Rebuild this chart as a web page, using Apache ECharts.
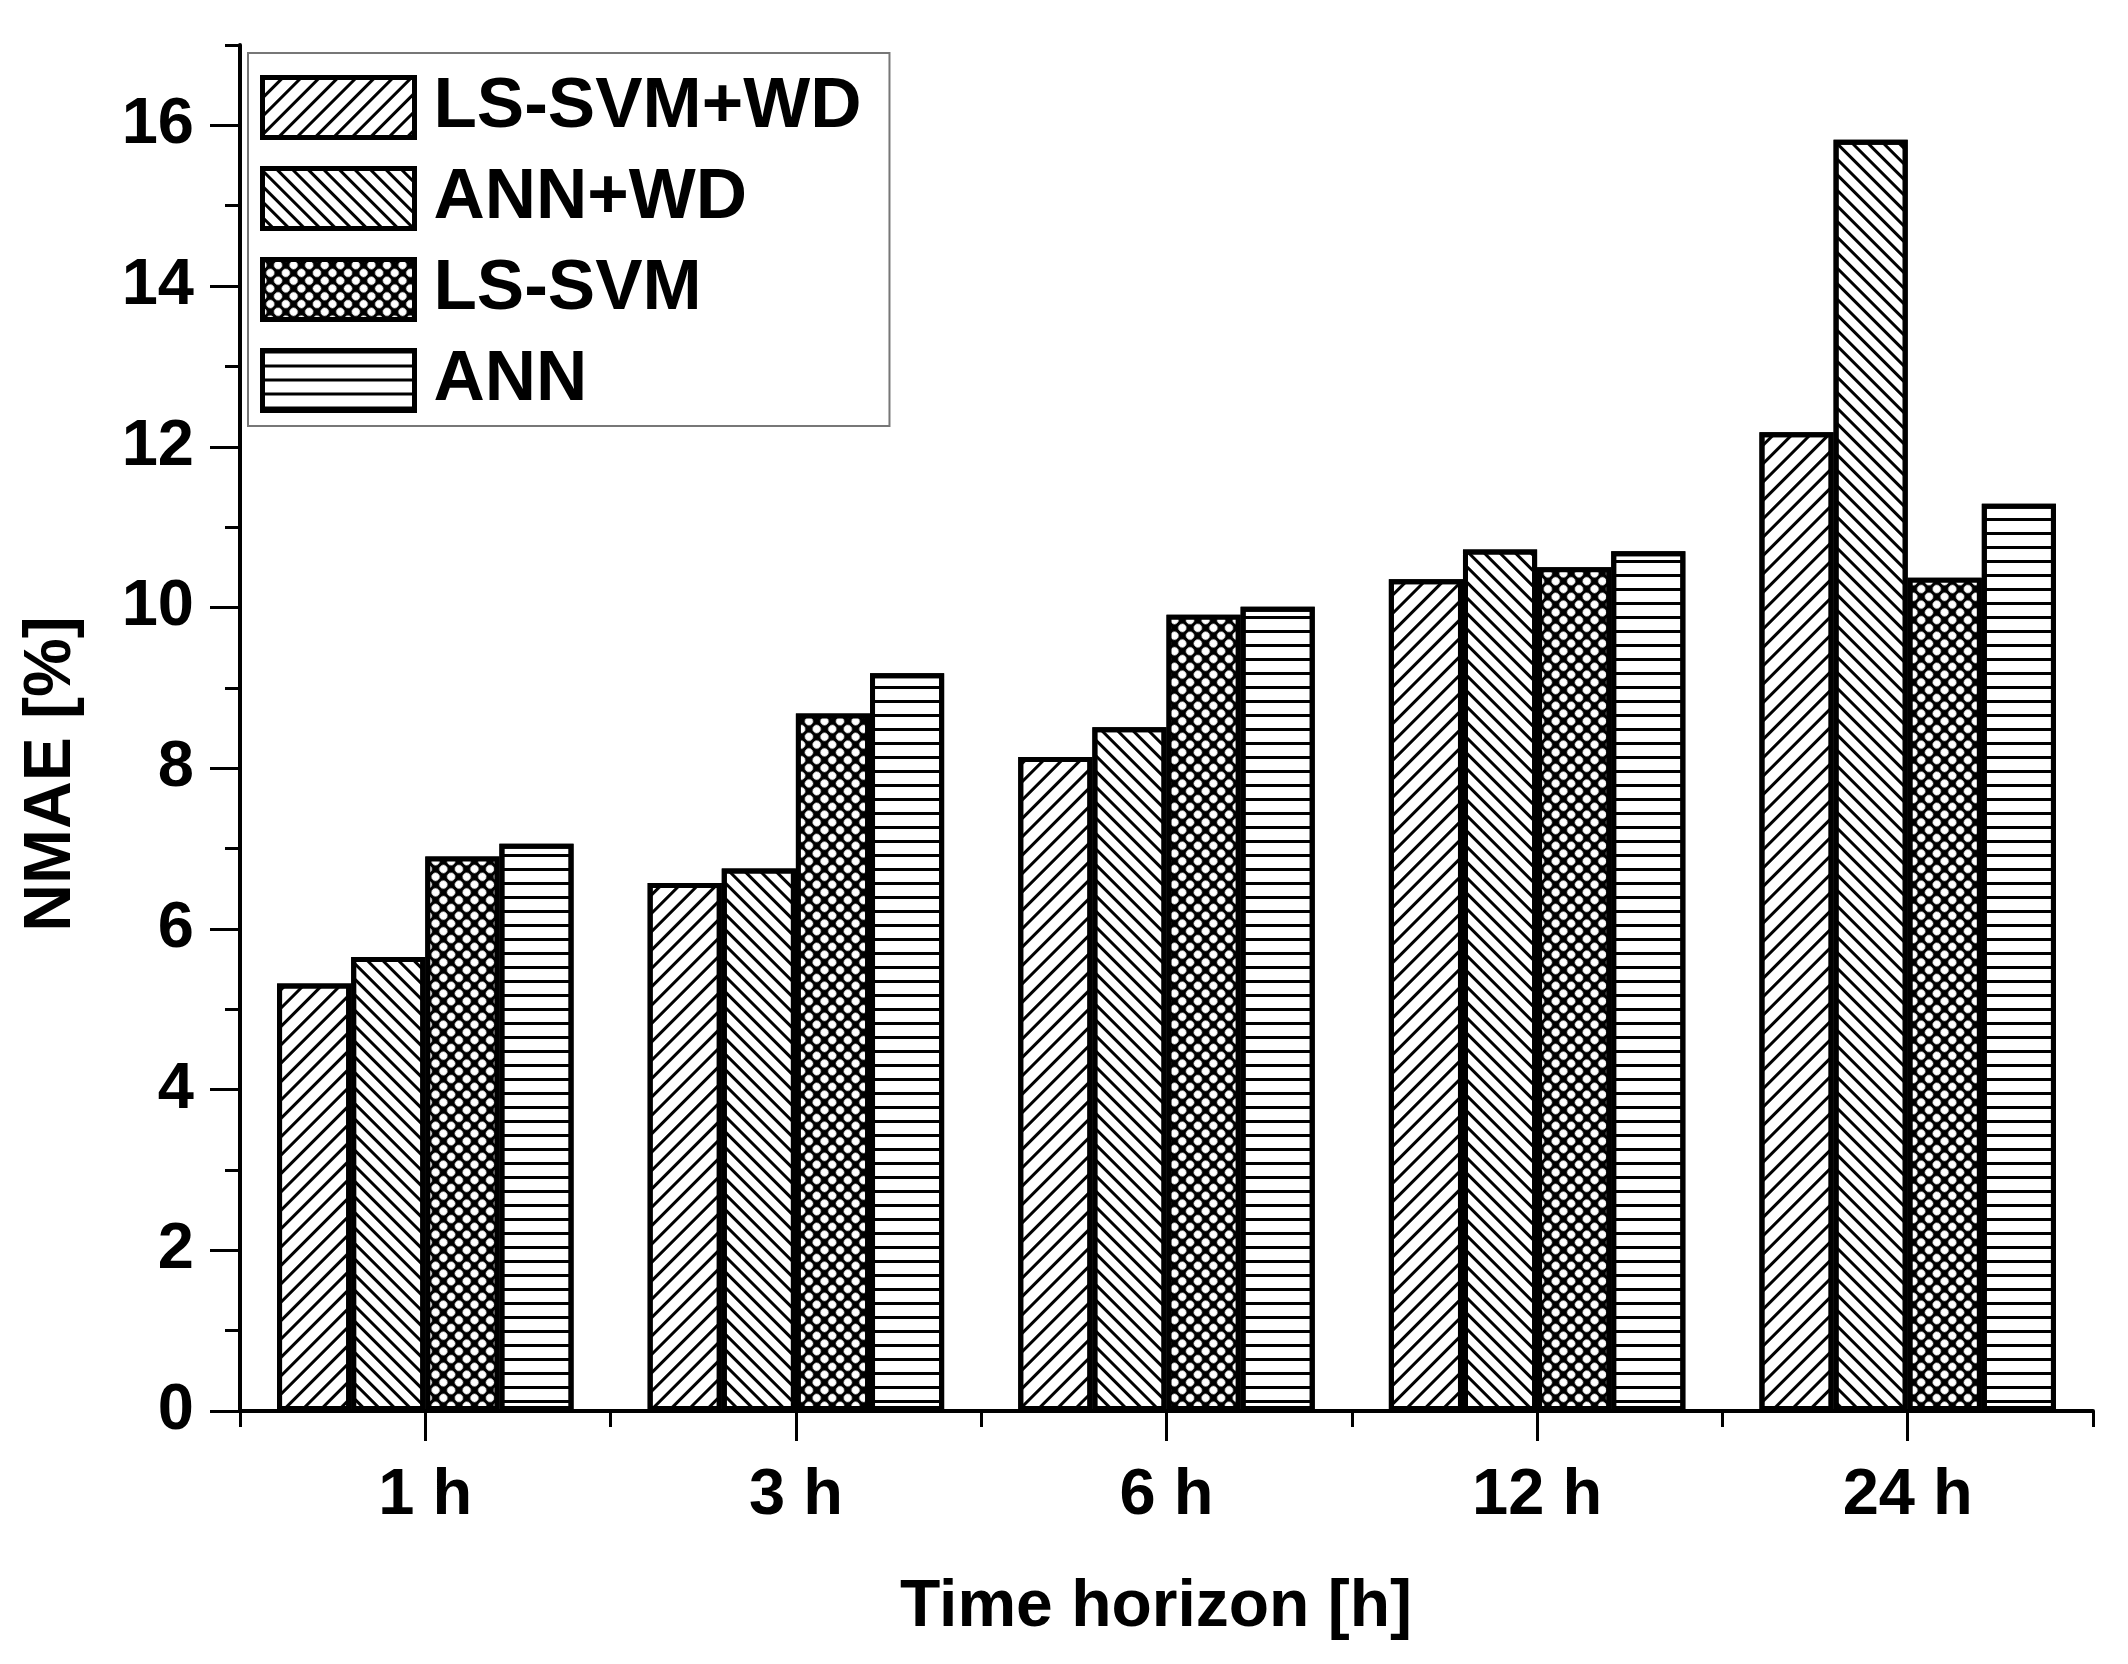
<!DOCTYPE html>
<html>
<head>
<meta charset="utf-8">
<script src="https://cdn.jsdelivr.net/npm/echarts@6/dist/echarts.min.js"></script>
<style>html,body{margin:0;padding:0;background:#fff}#c{width:2128px;height:1664px}</style>
</head>
<body>
<div id="c"></div>
<script>
const categories = ['1 h', '3 h', '6 h', '12 h', '24 h'];
const seriesNames = ['LS-SVM+WD', 'ANN+WD', 'LS-SVM', 'ANN'];
const lssvmWd = [5.32, 6.57, 8.14, 10.35, 12.18];
const annWd = [5.65, 6.75, 8.51, 10.72, 15.82];
const lssvm = [6.90, 8.68, 9.91, 10.50, 10.37];
const ann = [7.06, 9.18, 10.01, 10.70, 11.29];
const yTickValues = [0, 2, 4, 6, 8, 10, 12, 14, 16];
const yMinorValues = [1, 3, 5, 7, 9, 11, 13, 15, 17];

const FONT = '"Liberation Sans", Arial, sans-serif';
const chart = echarts.init(document.getElementById('c'), null, {renderer: 'canvas'});

const decals = [
  {symbol: 'rect', symbolSize: 1, dashArrayX: [1, 0], dashArrayY: [3, 10], rotation: -Math.PI / 4, color: '#000'},
  {symbol: 'rect', symbolSize: 1, dashArrayX: [1, 0], dashArrayY: [3, 8], rotation: Math.PI / 4, color: '#000'},
  {symbol: 'circle', symbolSize: 1, dashArrayX: [8, 3], dashArrayY: [8, 3], rotation: Math.PI / 4, color: '#fff'},
  {symbol: 'rect', symbolSize: 1, dashArrayX: [1, 0], dashArrayY: [3, 11], rotation: 0, color: '#000'}
];
const fills = ['#fff', '#fff', '#000', '#fff'];
const dataSets = [lssvmWd, annWd, lssvm, ann];

const series = seriesNames.map((name, i) => ({
  name: name,
  type: 'bar',
  xAxisIndex: 0,
  yAxisIndex: 0,
  data: dataSets[i],
  barGap: '0%',
  barCategoryGap: '20%',
  itemStyle: {color: fills[i], borderColor: '#000', borderWidth: 5, decal: decals[i]},
  emphasis: {disabled: true}
}));

const option = {
  animation: false,
  backgroundColor: '#fff',
  grid: {left: 240, right: 35, top: 45, bottom: 253, containLabel: false},
  legend: {
    orient: 'vertical',
    left: 248,
    top: 53,
    padding: [19, 28, 10, 12],
    borderColor: '#777',
    borderWidth: 2,
    icon: 'rect',
    itemWidth: 152,
    itemHeight: 60,
    itemGap: 20,
    itemStyle: {borderColor: '#000', borderWidth: 5},
    textStyle: {fontSize: 71, fontWeight: 'bold', fontFamily: FONT, color: '#000', lineHeight: 60, padding: [0, 0, 0, 14]},
    data: seriesNames
  },
  xAxis: [
    {
      type: 'category',
      data: categories,
      position: 'bottom',
      axisLine: {show: true, lineStyle: {color: '#000', width: 4}},
      axisTick: {show: true, alignWithLabel: true, length: 30, lineStyle: {color: '#000', width: 3}},
      axisLabel: {fontSize: 65, fontWeight: 'bold', fontFamily: FONT, color: '#000', margin: 53},
      splitLine: {show: false}
    },
    {
      type: 'category',
      data: categories,
      position: 'bottom',
      axisLine: {show: false},
      axisTick: {show: true, length: 16, lineStyle: {color: '#000', width: 3}},
      axisLabel: {show: false},
      splitLine: {show: false}
    }
  ],
  yAxis: [
    {
      type: 'value',
      min: 0,
      max: 17,
      interval: 1,
      position: 'left',
      axisLine: {show: true, lineStyle: {color: '#000', width: 4}},
      axisTick: {show: true, customValues: yMinorValues, length: 15, lineStyle: {color: '#000', width: 3}},
      axisLabel: {show: false},
      splitLine: {show: false}
    },
    {
      type: 'value',
      min: 0,
      max: 17,
      interval: 1,
      position: 'left',
      axisLine: {show: false},
      axisTick: {show: true, customValues: yTickValues, length: 30, lineStyle: {color: '#000', width: 3}},
      axisLabel: {customValues: yTickValues, fontSize: 65, fontWeight: 'bold', fontFamily: FONT, color: '#000', margin: 46},
      splitLine: {show: false}
    }
  ],
  graphic: [
    {
      type: 'text',
      x: 52,
      y: 774,
      rotation: Math.PI / 2,
      style: {text: 'NMAE [%]', fontSize: 66, fontWeight: 'bold', fontFamily: FONT, fill: '#000', align: 'center', verticalAlign: 'middle'}
    },
    {
      type: 'text',
      x: 1156,
      y: 1608,
      style: {text: 'Time horizon [h]', fontSize: 66, fontWeight: 'bold', fontFamily: FONT, fill: '#000', align: 'center', verticalAlign: 'middle'}
    }
  ],
  series: series
};
chart.setOption(option);
</script>
</body>
</html>
